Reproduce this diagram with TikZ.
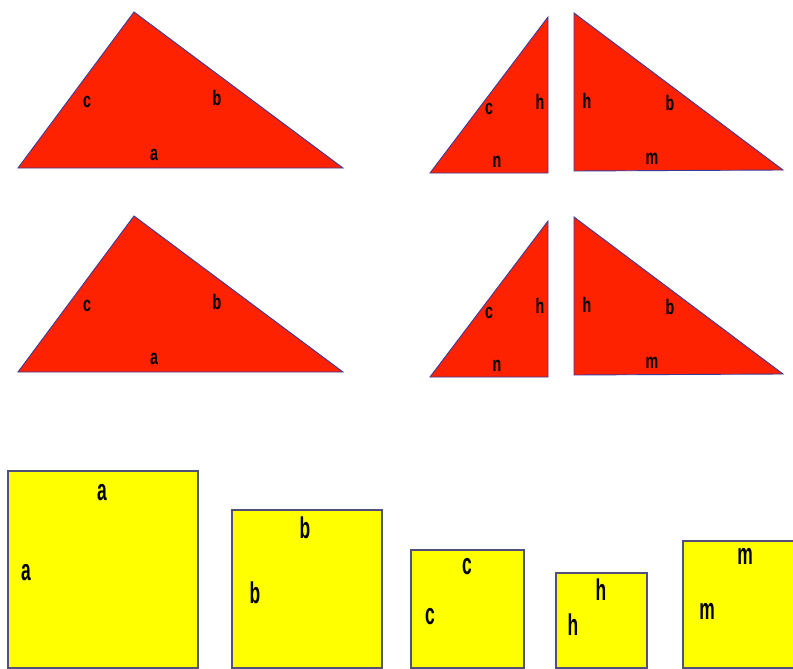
\documentclass[tikz,border=0pt]{standalone}
\usepackage{fontspec}
\setmainfont{Liberation Sans}
\definecolor{trired}{HTML}{FF2200}
\definecolor{edgeblue}{HTML}{3A3A9A}
\definecolor{sqyellow}{HTML}{FFFF00}
\definecolor{sqedge}{HTML}{50507A}
\tikzset{
  tri/.style={fill=trired, draw=edgeblue, line width=0.9pt, line join=miter},
  sq/.style={fill=sqyellow, draw=sqedge, line width=1.2pt},
  tlab/.style={inner sep=0pt, font=\fontsize{21}{21}\selectfont\bfseries},
  slab/.style={inner sep=0pt, font=\fontsize{30}{30}\selectfont\bfseries},
}
\newcommand{\trlab}[1]{\scalebox{0.68}[1]{#1}}
\newcommand{\sqlab}[1]{\scalebox{0.58}[1]{#1}}
\begin{document}
\begin{tikzpicture}[x=1pt,y=-1pt]
\useasboundingbox (0,0) rectangle (793,669);
\clip (0,0) rectangle (793,669);
% ---- triangles, two rows ----
\foreach \dy/\r in {0/1,204/2}{
  \begin{scope}[yshift=-\dy]
    \draw[tri] (18,168) -- (134,12) -- (343,168) -- cycle;
    \draw[tri] (430,173) -- (548,17) -- (548,173) -- cycle;
    \draw[tri] (574,13) -- (574,171) -- (783,170) -- cycle;
    \node[tlab] (c\r) at (87,102) {\trlab{c}};
    \node[tlab] (b\r) at (217,98) {\trlab{b}};
    \node[tlab] (a\r) at (154,155) {\trlab{a}};
    \node[tlab] (cs\r) at (489,109) {\trlab{c}};
    \node[tlab] (hs\r) at (540,102) {\trlab{h}};
    \node[tlab] (ns\r) at (497,162) {\trlab{n}};
    \node[tlab] (hr\r) at (587,101) {\trlab{h}};
    \node[tlab] (br\r) at (670,103) {\trlab{b}};
    \node[tlab] (mr\r) at (652,159) {\trlab{m}};
  \end{scope}
}
% ---- squares ----
\draw[sq] (8,471) rectangle (198,668);
\draw[sq] (232,510) rectangle (382,668);
\draw[sq] (411,550) rectangle (524,668);
\draw[sq] (556,573) rectangle (647,668);
\draw[sq] (683,541) rectangle (800,668);
\node[slab] (sqa1) at (102,493) {\sqlab{a}};
\node[slab] (sqa2) at (26,573) {\sqlab{a}};
\node[slab] (sqb1) at (305,528) {\sqlab{b}};
\node[slab] (sqb2) at (255,593) {\sqlab{b}};
\node[slab] (sqc1) at (467,567) {\sqlab{c}};
\node[slab] (sqc2) at (430,617) {\sqlab{c}};
\node[slab] (sqh1) at (601,590) {\sqlab{h}};
\node[slab] (sqh2) at (573,625) {\sqlab{h}};
\node[slab] (sqm1) at (745,556) {\sqlab{m}};
\node[slab] (sqm2) at (707,611) {\sqlab{m}};
\end{tikzpicture}
\end{document}
